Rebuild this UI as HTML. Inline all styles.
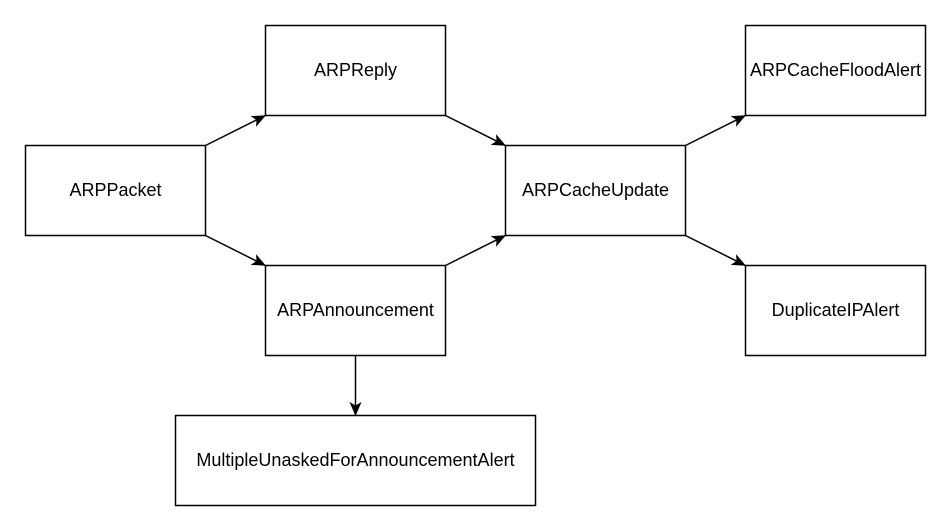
<!DOCTYPE html>
<html><head><meta charset="utf-8"><style>
html,body{margin:0;padding:0;background:#fff;}
svg{display:block;}
text{font-family:"Liberation Sans",Helvetica,Arial,sans-serif;font-size:18px;fill:#000;}
</style></head><body>
<svg width="950" height="530" viewBox="0 0 950 530" xmlns="http://www.w3.org/2000/svg">
<defs>
<marker id="a" markerWidth="14" markerHeight="12" refX="13" refY="6" orient="auto" markerUnits="userSpaceOnUse">
<path d="M0,0 L14,6 L0,12 L3.5,6 Z" fill="#000"/>
</marker>
</defs>
<g fill="#fff" stroke="#000" stroke-width="1.5">
<rect x="25.5" y="145.5" width="180" height="90"/>
<rect x="265.5" y="25.5" width="180" height="90"/>
<rect x="265.5" y="265.5" width="180" height="90"/>
<rect x="505.5" y="145.5" width="180" height="90"/>
<rect x="745.5" y="25.5" width="180" height="90"/>
<rect x="745.5" y="265.5" width="180" height="90"/>
<rect x="175.5" y="415.5" width="360" height="90"/>
</g>
<g stroke="#000" stroke-width="1.5" fill="none" marker-end="url(#a)">
<line x1="205.5" y1="145.5" x2="265" y2="115.7"/>
<line x1="205.5" y1="235.5" x2="265" y2="265.3"/>
<line x1="445.5" y1="115.5" x2="505" y2="145.3"/>
<line x1="445.5" y1="265.5" x2="505" y2="235.7"/>
<line x1="685.5" y1="145.5" x2="745" y2="115.7"/>
<line x1="685.5" y1="235.5" x2="745" y2="265.3"/>
<line x1="355.5" y1="355.5" x2="355.5" y2="415"/>
</g>
<g text-anchor="middle">
<text x="115.5" y="196">ARPPacket</text>
<text x="355.5" y="76">ARPReply</text>
<text x="355.5" y="316">ARPAnnouncement</text>
<text x="595.5" y="196">ARPCacheUpdate</text>
<text x="835.5" y="76">ARPCacheFloodAlert</text>
<text x="835.5" y="316">DuplicateIPAlert</text>
<text x="355.5" y="466">MultipleUnaskedForAnnouncementAlert</text>
</g>
</svg>
</body></html>
